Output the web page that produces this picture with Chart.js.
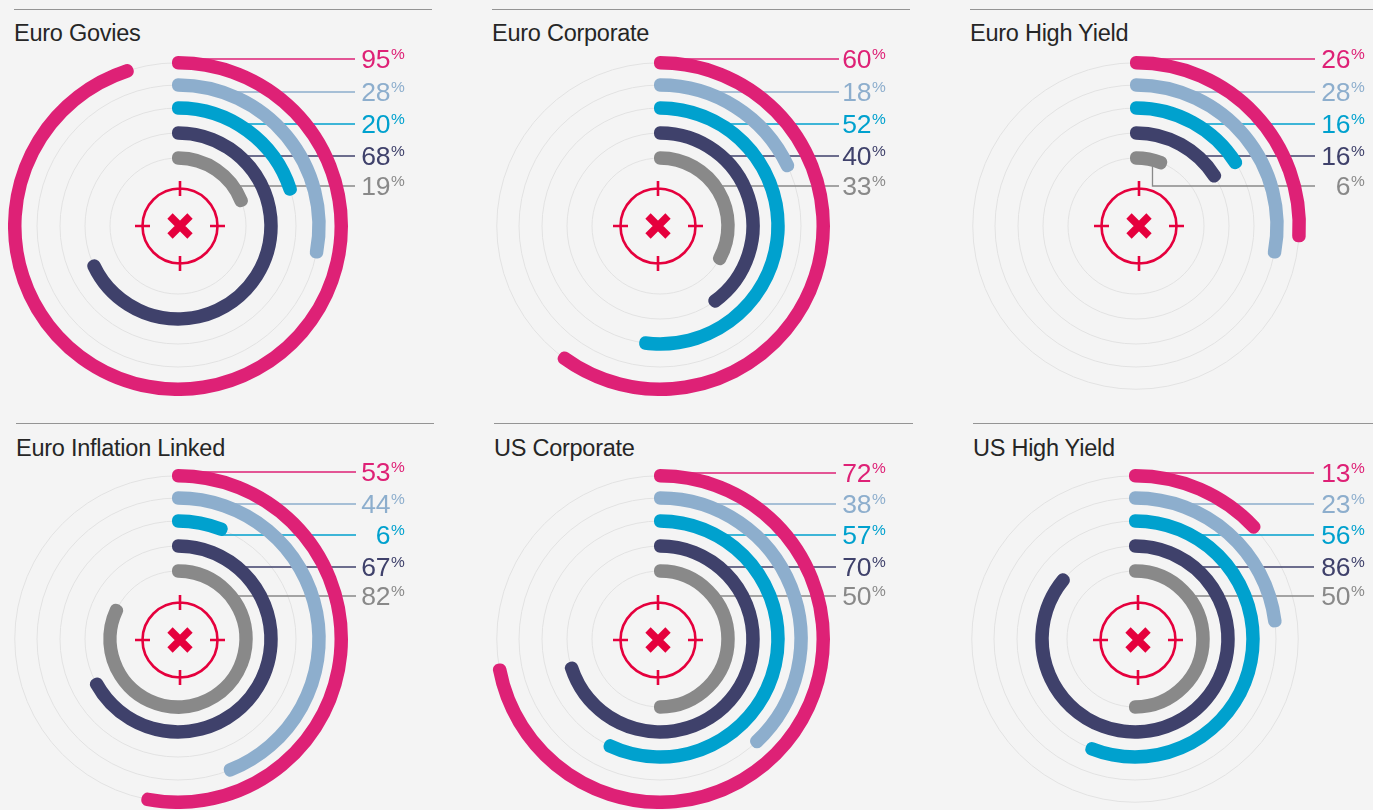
<!DOCTYPE html>
<html>
<head>
<meta charset="utf-8">
<title>Rings</title>
<script src="https://cdn.jsdelivr.net/npm/chart.js@4"></script>
<style>
  html, body { margin: 0; padding: 0; background: #f4f4f4; }
  body { position: relative; width: 1373px; height: 810px; overflow: hidden; font-family: "Liberation Sans", sans-serif; }
  canvas { position: absolute; }
  .rule { position: absolute; height: 1px; background: #949494; }
  .title { position: absolute; font-size: 23.5px; line-height: 26px; color: #262626; letter-spacing: -0.25px; white-space: nowrap; }
  .num { position: absolute; font-size: 26.5px; line-height: 28px; letter-spacing: -0.4px; text-align: right; white-space: nowrap; }
  .pct { position: absolute; font-size: 15.5px; line-height: 16px; white-space: nowrap; }
</style>
</head>
<body>
<script>
const titles = ["Euro Govies", "Euro Corporate", "Euro High Yield", "Euro Inflation Linked", "US Corporate", "US High Yield"];

const euroGovies = [95, 28, 20, 68, 19];
const euroCorporate = [60, 18, 52, 40, 33];
const euroHighYield = [26, 28, 16, 16, 6];
const euroInflation = [53, 44, 6, 67, 82];
const usCorporate = [72, 38, 57, 70, 50];
const usHighYield = [13, 23, 56, 86, 50];
const allValues = [euroGovies, euroCorporate, euroHighYield, euroInflation, usCorporate, usHighYield];

const COLORS = ["#de2176", "#8daecd", "#00a1ce", "#3f416b", "#898989"];
const RED = "#e5003d";

// page layout of each panel
const PANELS = [
  { cx: 178, cy: 226, markX: 180, markY: 226, ruleX: 14, ruleEnd: 432, ruleY: 9, titleX: 14, titleY: 20, numRight: 390, lineEnd: 355, rows: [59, 92, 124, 156, 186] },
  { cx: 660, cy: 226, markX: 658, markY: 226, ruleX: 492, ruleEnd: 910, ruleY: 9, titleX: 492, titleY: 20, numRight: 871, lineEnd: 839, rows: [59, 92, 124, 156, 186] },
  { cx: 1136, cy: 226, markX: 1139, markY: 226, ruleX: 970, ruleEnd: 1373, ruleY: 9, titleX: 970, titleY: 20, numRight: 1350, lineEnd: 1315, rows: [59, 92, 124, 156, 186] },
  { cx: 178, cy: 639, markX: 180, markY: 640, ruleX: 16, ruleEnd: 434, ruleY: 423, titleX: 16, titleY: 435, numRight: 390, lineEnd: 356, rows: [472, 504, 535, 567, 596] },
  { cx: 660, cy: 639, markX: 658, markY: 640, ruleX: 494, ruleEnd: 913, ruleY: 423, titleX: 494, titleY: 435, numRight: 871, lineEnd: 836, rows: [473, 504, 535, 567, 596] },
  { cx: 1135, cy: 639, markX: 1138, markY: 640, ruleX: 973, ruleEnd: 1373, ruleY: 423, titleX: 973, titleY: 435, numRight: 1350, lineEnd: 1314, rows: [473, 504, 535, 567, 596] },
];

const HALF = 170;
const CANVAS_W = 430;
const CAP = 12; // arc border, gives the round ends
const ARC_WEIGHT = 1.5;
const RING_R = [163.25, 141, 118, 93, 68];
const GAPS = [20.75, 21.5, 23.5, 23.5, 67.25];

function addDiv(cls, left, top, text, color) {
  const el = document.createElement("div");
  el.className = cls;
  el.style.left = left + "px";
  el.style.top = top + "px";
  if (color) el.style.color = color;
  if (text !== null) el.textContent = text;
  document.body.appendChild(el);
  return el;
}

const panelDecor = {
  id: "panelDecor",
  beforeDatasetsDraw(chart, args, opts) {
    const ctx = chart.ctx;
    const cx = HALF;
    const cy = HALF;
    ctx.save();
    ctx.strokeStyle = "#e2e2e2";
    ctx.lineWidth = 1;
    RING_R.forEach((r) => {
      ctx.beginPath();
      ctx.arc(cx, cy, r, 0, Math.PI * 2);
      ctx.stroke();
    });
    // leader lines sit under the arcs
    opts.rows.forEach((rowY, i) => {
      const r = RING_R[i];
      const y = rowY - opts.top;
      const dy = y - cy;
      const endAngle = (opts.values[i] / 100) * Math.PI * 2;
      const endX = cx + r * Math.sin(endAngle);
      const endY = cy - r * Math.cos(endAngle);
      ctx.strokeStyle = COLORS[i];
      ctx.lineWidth = 1.3;
      ctx.beginPath();
      if (endAngle < Math.PI && endY < y - 12) {
        // arc stops well above its row, so the line drops down from it
        const a = endAngle * 0.65;
        ctx.moveTo(cx + r * Math.sin(a), cy - r * Math.cos(a));
        ctx.lineTo(cx + r * Math.sin(a), y);
      } else if (endAngle < Math.PI && endY < y) {
        ctx.moveTo(endX, y);
      } else {
        ctx.moveTo(Math.abs(dy) < r ? cx + Math.sqrt(r * r - dy * dy) : cx, y);
      }
      ctx.lineTo(opts.lineEnd, y);
      ctx.stroke();
    });
    ctx.restore();
  },
  afterDatasetsDraw(chart, args, opts) {
    const ctx = chart.ctx;
    const x = opts.markX;
    const y = opts.markY;
    ctx.save();
    ctx.strokeStyle = RED;
    ctx.lineWidth = 2.6;
    ctx.beginPath();
    ctx.arc(x, y, 37.5, 0, Math.PI * 2);
    ctx.moveTo(x - 45, y);
    ctx.lineTo(x - 30, y);
    ctx.moveTo(x + 30, y);
    ctx.lineTo(x + 45, y);
    ctx.moveTo(x, y - 45);
    ctx.lineTo(x, y - 30);
    ctx.moveTo(x, y + 30);
    ctx.lineTo(x, y + 45);
    ctx.stroke();
    ctx.lineWidth = 7.5;
    ctx.lineJoin = "round";
    ctx.beginPath();
    ctx.moveTo(x - 10, y - 10);
    ctx.lineTo(x + 10, y + 10);
    ctx.moveTo(x + 10, y - 10);
    ctx.lineTo(x - 10, y + 10);
    ctx.stroke();
    ctx.restore();
  },
};

function buildDatasets(values) {
  const sets = [];
  values.forEach((v, i) => {
    sets.push({
      data: [v, 100 - v],
      backgroundColor: [COLORS[i], "transparent"],
      borderColor: [COLORS[i], "transparent"],
      borderWidth: [CAP, 0],
      borderJoinStyle: "round",
      weight: ARC_WEIGHT,
    });
    sets.push({ data: [], weight: GAPS[i] }); // empty space to the next ring
  });
  return sets;
}

PANELS.forEach((p, idx) => {
  const rule = addDiv("rule", p.ruleX, p.ruleY, null);
  rule.style.width = p.ruleEnd - p.ruleX + "px";
  addDiv("title", p.titleX, p.titleY, titles[idx]);

  const canvas = document.createElement("canvas");
  canvas.width = CANVAS_W;
  canvas.height = HALF * 2;
  canvas.style.left = p.cx - HALF + "px";
  canvas.style.top = p.cy - HALF + "px";
  document.body.appendChild(canvas);

  new Chart(canvas.getContext("2d"), {
    type: "doughnut",
    data: { labels: ["share", "rest"], datasets: buildDatasets(allValues[idx]) },
    options: {
      responsive: false,
      animation: false,
      cutout: 0,
      events: [],
      layout: { padding: { right: CANVAS_W - HALF * 2 } },
      plugins: {
        legend: { display: false },
        tooltip: { enabled: false },
        panelDecor: {
          rows: p.rows,
          values: allValues[idx],
          top: p.cy - HALF,
          lineEnd: p.lineEnd - (p.cx - HALF),
          markX: p.markX - (p.cx - HALF),
          markY: p.markY - (p.cy - HALF),
        },
      },
    },
    plugins: [panelDecor],
  });

  allValues[idx].forEach((v, i) => {
    const num = addDiv("num", 0, p.rows[i] - 14, String(v), COLORS[i]);
    num.style.left = "auto";
    num.style.right = 1373 - p.numRight + "px";
    addDiv("pct", p.numRight + 1, p.rows[i] - 13, "%", COLORS[i]);
  });
});
</script>
</body>
</html>
